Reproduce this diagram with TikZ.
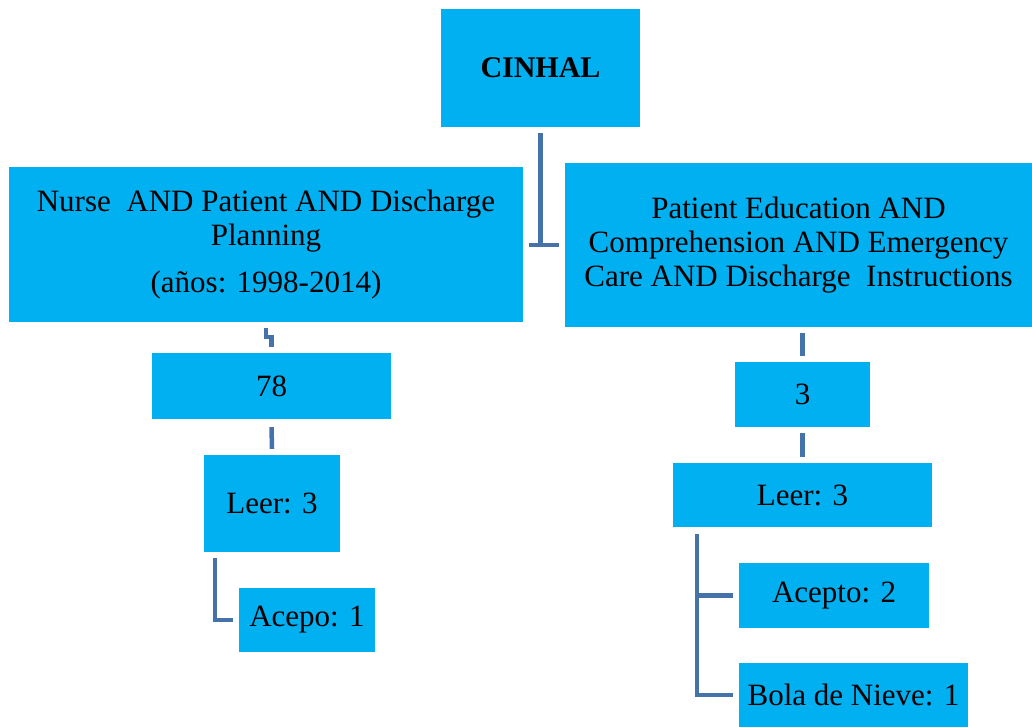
\documentclass[tikz,border=0pt]{standalone}
\usepackage{fontspec}
\setmainfont{Liberation Serif}
\definecolor{boxfill}{HTML}{00B0F0}
\definecolor{linkc}{HTML}{4672AA}
\begin{document}
\begin{tikzpicture}[x=1pt,y=1pt,
  box/.style={fill=boxfill,draw=none,inner sep=0pt,align=center,
    font=\fontsize{31}{34}\selectfont},
  link/.style={draw=linkc,line width=4.5pt,line join=miter}]
\useasboundingbox (0,0) rectangle (1032,-727);
\node[box,minimum width=199pt,minimum height=118pt,font=\fontsize{30}{34}\selectfont\bfseries] (cinhal) at (540.5,-68) {CINHAL};
\node[box,minimum width=514pt,minimum height=155pt] (nurse) at (266,-244.5)
  {Nurse\ \ AND Patient AND Discharge\\ Planning\\[13pt] (años: 1998-2014)};
\node[box,minimum width=467pt,minimum height=164pt] (pat) at (798.5,-245)
  {Patient Education AND\\ Comprehension AND Emergency\\ Care AND Discharge\ \ Instructions};
\node[box,minimum width=239pt,minimum height=66pt] (n78) at (271.5,-386) {78};
\node[box,minimum width=136pt,minimum height=97pt] (leerL) at (272,-503.5) {Leer: 3};
\node[box,minimum width=136pt,minimum height=64pt] (acepo) at (307,-620) {Acepo: 1};
\node[box,minimum width=135pt,minimum height=65pt] (n3) at (802.5,-394.5) {3};
\node[box,minimum width=259pt,minimum height=64pt] (leerR) at (802.5,-495) {Leer: 3};
\node[box,minimum width=190pt,minimum height=65pt] (acepto) at (834,-595.5) {Acepto: 2};
\node[box,minimum width=229pt,minimum height=64pt] (bola) at (853.5,-695) {Bola de Nieve: 1};
% CINHAL connector
\draw[link] ([yshift=-6pt]cinhal.south) -- ++(0,-112) coordinate (cj);
\draw[link] ([xshift=-11.5pt]cj) -- ([xshift=18.5pt]cj);
% Nurse -> 78
\draw[link] ([yshift=-6pt]nurse.south) -- ++(0,-9) -| ([yshift=6pt]n78.north);
% 78 -> Leer
\draw[link] ([yshift=-8pt]n78.south) -- ([yshift=6pt]leerL.north);
% Leer -> Acepo
\draw[link] ([xshift=11pt,yshift=-6pt]leerL.south west) |- ([xshift=-6pt]acepo.west);
% Patient -> 3
\draw[link] (pat.south -| n3.north) ++(0,-6) -- ([yshift=6pt]n3.north);
% 3 -> Leer
\draw[link] ([yshift=-6pt]n3.south) -- ([yshift=6pt]leerR.north);
% Leer -> Acepto, Bola
\draw[link] ([xshift=24pt,yshift=-7pt]leerR.south west) coordinate (rb) |- ([xshift=-6pt]bola.west);
\draw[link] (rb |- acepto.west) -- ([xshift=-6pt]acepto.west);
\end{tikzpicture}
\end{document}
